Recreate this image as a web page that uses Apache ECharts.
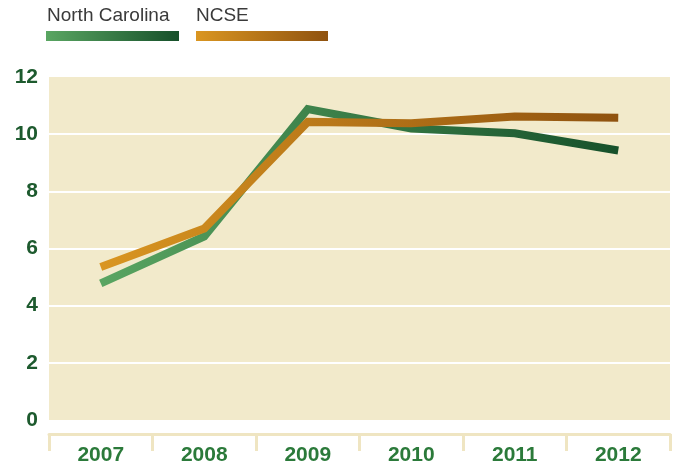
<!DOCTYPE html>
<html>
<head>
<meta charset="utf-8">
<script src="https://cdn.jsdelivr.net/npm/echarts@6/dist/echarts.min.js"></script>
<style>
  html, body { margin: 0; padding: 0; background: #fff; }
  #chart { width: 675px; height: 467px; }
</style>
</head>
<body>
<div id="chart"></div>
<script>
var years = ['2007', '2008', '2009', '2010', '2011', '2012'];
var northCarolina = [4.78, 6.42, 10.88, 10.2, 10.03, 9.43];
var ncse = [5.35, 6.7, 10.43, 10.38, 10.62, 10.57];
var yTicks = [0, 2, 4, 6, 8, 10, 12];

(function() {
    var chart = echarts.init(document.getElementById('chart'));

    function grad(a, b) {
        return new echarts.graphic.LinearGradient(0, 0, 1, 0, [
            {offset: 0, color: a},
            {offset: 1, color: b}
        ]);
    }
    var greenGrad = grad('#5aa662', '#16502a');
    var orangeGrad = grad('#da9621', '#8f520f');

    var option = {
        animation: false,
        grid: {
            left: 49,
            right: 5,
            top: 77,
            bottom: 47,
            show: true,
            backgroundColor: '#f2eacb',
            borderWidth: 0
        },
        graphic: [
            {type: 'text', left: 47, top: 6, style: {text: 'North Carolina', fill: '#3a3a3a', font: '19px "Liberation Sans", Arial, sans-serif'}},
            {type: 'rect', shape: {x: 46, y: 31, width: 133, height: 10}, style: {fill: grad('#5aa662', '#16502a')}},
            {type: 'text', left: 196, top: 6, style: {text: 'NCSE', fill: '#3a3a3a', font: '19px "Liberation Sans", Arial, sans-serif'}},
            {type: 'rect', shape: {x: 196, y: 31, width: 132, height: 10}, style: {fill: grad('#da9621', '#8f520f')}}
        ],
        xAxis: {
            type: 'category',
            data: years,
            boundaryGap: true,
            offset: 14,
            axisLine: {onZero: false, lineStyle: {color: '#efe5c2', width: 3}},
            axisTick: {show: true, interval: 0, length: 17, lineStyle: {color: '#efe5c2', width: 3}},
            axisLabel: {
                color: '#2b7a3a',
                fontWeight: 'bold',
                fontSize: 21,
                fontFamily: 'Liberation Sans, Arial, sans-serif',
                margin: 11
            },
            splitLine: {show: false}
        },
        yAxis: {
            type: 'value',
            min: yTicks[0],
            max: yTicks[yTicks.length - 1],
            interval: 2,
            axisLine: {show: false},
            axisTick: {show: false},
            axisLabel: {
                color: '#1d5a2e',
                fontWeight: 'bold',
                fontSize: 21,
                fontFamily: 'Liberation Sans, Arial, sans-serif',
                margin: 11
            },
            splitLine: {
                show: true,
                lineStyle: {color: '#ffffff', width: 2},
                showMinLine: false,
                showMaxLine: false
            }
        },
        series: [
            {
                name: 'North Carolina',
                type: 'line',
                data: northCarolina,
                symbol: 'none',
                lineStyle: {width: 8, color: greenGrad, cap: 'butt', join: 'miter'},
                itemStyle: {color: '#2e7a3e'}
            },
            {
                name: 'NCSE',
                type: 'line',
                data: ncse,
                symbol: 'none',
                lineStyle: {width: 8, color: orangeGrad, cap: 'butt', join: 'miter'},
                itemStyle: {color: '#c07a18'}
            }
        ]
    };
    chart.setOption(option);
})();
</script>
</body>
</html>
